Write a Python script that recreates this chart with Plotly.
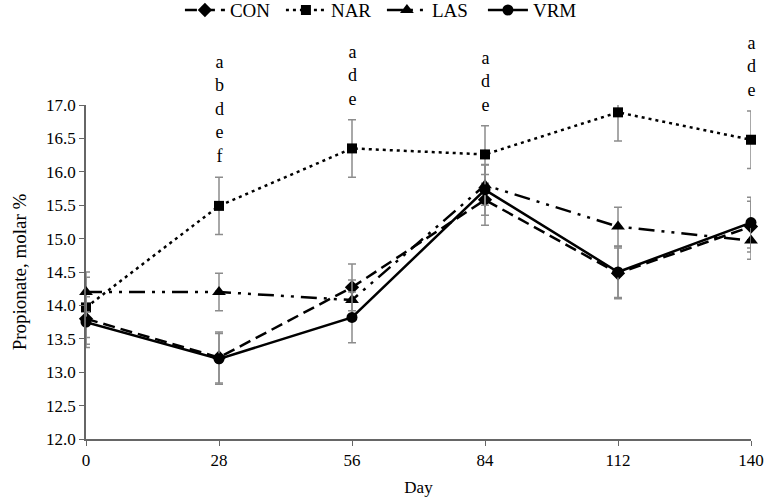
import plotly.graph_objects as go

days = [0, 28, 56, 84, 112, 140]
tick_labels = ["0", "28", "56", "84", "112", "140"]

con = [13.80, 13.22, 14.27, 15.58, 14.48, 15.18]
nar = [13.97, 15.49, 16.35, 16.26, 16.89, 16.48]
las = [14.20, 14.20, 14.08, 15.80, 15.18, 14.97]
vrm = [13.75, 13.20, 13.82, 15.73, 14.50, 15.24]

con_se = [0.38, 0.38, 0.35, 0.38, 0.38, 0.38]
nar_se = [0.45, 0.43, 0.43, 0.43, 0.43, 0.43]
las_se = [0.30, 0.28, 0.30, 0.30, 0.29, 0.28]
vrm_se = [0.38, 0.38, 0.38, 0.38, 0.38, 0.38]

letters = ["", "a<br>b<br>d<br>e<br>f", "a<br>d<br>e", "a<br>d<br>e", "a<br>d<br>e", "a<br>d<br>e"]

FONT = "Liberation Serif"
ERR = dict(type="data", thickness=1.5, width=4, color="#8c8c8c")

series = [
    ("CON", con, con_se, "12px,6px", "diamond", 11),
    ("NAR", nar, nar_se, "3px,4px", "square", 10),
    ("LAS", las, las_se, "16px,7px,3px,7px,3px,7px", "triangle-up", 12),
    ("VRM", vrm, vrm_se, "solid", "circle", 11),
]

fig = go.Figure()
for name, vals, se, dash, sym, size in series:
    fig.add_trace(go.Scatter(
        x=days, y=vals, name=name, mode="lines+markers",
        line=dict(color="black", width=2.5, dash=dash),
        marker=dict(symbol=sym, size=size, color="black"),
        error_y=dict(array=se, **ERR),
        cliponaxis=False,
    ))

for d, v, s, t in zip(days, nar, nar_se, letters):
    if t:
        fig.add_annotation(x=d, y=v + s, text=t, showarrow=False,
                           yanchor="bottom", yshift=9,
                           font=dict(family=FONT, size=18, color="black"))

fig.update_layout(
    width=768, height=503,
    margin=dict(l=86, r=17, t=105, b=64, autoexpand=False),
    paper_bgcolor="white", plot_bgcolor="white",
    font=dict(family=FONT, size=17, color="black"),
    showlegend=True,
    legend=dict(orientation="h", x=0.445, xanchor="center", y=1.284, yanchor="middle",
                font=dict(family=FONT, size=19), itemwidth=40,
                entrywidth=46, entrywidthmode="pixels",
                traceorder="normal"),
)
fig.update_xaxes(range=[0, 140], tickvals=days, ticktext=tick_labels,
                 showgrid=False, zeroline=False, showline=True, automargin=False,
                 linecolor="#666666", linewidth=1.5, ticks="outside",
                 ticklen=5, tickcolor="#666666",
                 title=dict(text="Day", font=dict(family=FONT, size=17), standoff=12))
fig.update_yaxes(range=[12, 17], dtick=0.5, tickformat=".1f",
                 showgrid=False, zeroline=False, showline=True, automargin=False,
                 linecolor="#666666", linewidth=1.5, ticks="outside",
                 ticklen=5, tickcolor="#666666",
                 title=dict(text="Propionate, molar %", font=dict(family=FONT, size=19), standoff=14))

fig.write_html("out.html", config={"displayModeBar": False},
               post_script="document.body.style.margin='0px';")
